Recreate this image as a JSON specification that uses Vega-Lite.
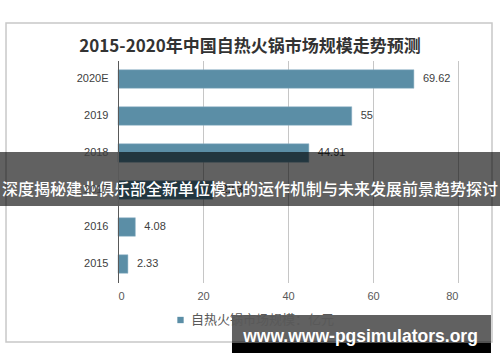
{
  "$schema": "https://vega.github.io/schema/vega-lite/v6.json",
  "width": 340,
  "height": 222,
  "autosize": {"type": "none"},
  "padding": {"left": 118, "top": 60.5, "right": 42, "bottom": 79.5},
  "background": "white",
  "config": {"view": {"stroke": null}, "font": "Liberation Sans"},
  "title": {
    "text": "2015-2020年中国自热火锅市场规模走势预测",
    "font": "Noto Sans CJK SC",
    "fontSize": 17,
    "fontWeight": "bold",
    "color": "#333333",
    "anchor": "middle",
    "dx": -38,
    "dy": 42,
    "offset": 8
  },
  "data": {
    "values": [
      {"year": "2020E", "value": 69.62, "series": "自热火锅市场规模：亿元"},
      {"year": "2019", "value": 55, "series": "自热火锅市场规模：亿元"},
      {"year": "2018", "value": 44.91, "series": "自热火锅市场规模：亿元"},
      {"year": "2017", "value": 22.3, "series": "自热火锅市场规模：亿元"},
      {"year": "2016", "value": 4.08, "series": "自热火锅市场规模：亿元"},
      {"year": "2015", "value": 2.33, "series": "自热火锅市场规模：亿元"}
    ]
  },
  "layer": [
    {
      "data": {"values": [{"k": "frame"}]},
      "mark": {"type": "rect", "fill": "#ffffff", "fillOpacity": 0, "stroke": "#c8c8c8", "strokeWidth": 1.5},
      "encoding": {
        "x": {"datum": -26.35, "type": "quantitative", "scale": {"domain": [0, 80], "nice": false}, "axis": {"title": null, "values": [0, 20, 40, 60, 80], "ticks": false, "domain": false, "grid": true, "gridColor": "#c6c6c6", "gridWidth": 1, "labelFontSize": 11, "labelColor": "#595959", "labelPadding": 8, "labelFont": "Liberation Sans"}},
        "x2": {"datum": 88.0},
        "y": {"datum": "2020E", "type": "nominal", "bandPosition": -2.53, "scale": {"domain": ["2020E", "2019", "2018", "2017", "2016", "2015"], "paddingInner": 0.5, "paddingOuter": 0.25}, "axis": {"title": null, "ticks": false, "grid": false, "domain": true, "domainColor": "#595959", "domainWidth": 1, "labelFontSize": 11, "labelColor": "#404040", "labelPadding": 10, "labelFont": "Liberation Sans"}},
        "y2": {"datum": "2015", "bandPosition": 4.72}
      }
    },
    {
      "mark": {"type": "bar", "stroke": "#8fb3c6", "strokeWidth": 0.5},
      "encoding": {
        "x": {"field": "value", "type": "quantitative"},
        "y": {"field": "year", "type": "nominal"},
        "color": {
          "field": "series",
          "type": "nominal",
          "scale": {"range": ["#5b8ea6"]},
          "legend": {"title": null, "orient": "none", "legendX": 56, "legendY": 253, "symbolType": "square", "symbolSize": 40, "symbolStrokeWidth": 0, "labelFont": "Noto Sans CJK SC", "labelFontSize": 13, "labelColor": "#595959", "labelOffset": 4}
        }
      }
    },
    {
      "mark": {"type": "text", "align": "left", "baseline": "middle", "dx": 9, "fontSize": 11, "color": "#404040", "font": "Liberation Sans"},
      "encoding": {
        "x": {"field": "value", "type": "quantitative"},
        "y": {"field": "year", "type": "nominal"},
        "text": {"field": "value", "type": "quantitative", "format": ".2~f"}
      }
    },
    {
      "data": {"values": [{"k": "banner"}]},
      "mark": {"type": "rect", "fill": "#000000", "fillOpacity": 0.62},
      "encoding": {
        "x": {"datum": -27.8, "type": "quantitative"},
        "x2": {"datum": 89.9},
        "y": {"datum": "2018", "type": "nominal", "bandPosition": 0.446},
        "y2": {"datum": "2017", "bandPosition": 1.365}
      }
    },
    {
      "data": {"values": [{"t": "深度揭秘建业俱乐部全新单位模式的运作机制与未来发展前景趋势探讨"}]},
      "mark": {"type": "text", "align": "center", "baseline": "middle", "fontSize": 16, "fontWeight": 500, "color": "#ffffff", "font": "Noto Sans CJK SC"},
      "encoding": {
        "x": {"datum": 31.06, "type": "quantitative"},
        "y": {"datum": "2017", "type": "nominal"},
        "text": {"field": "t"}
      }
    },
    {
      "data": {"values": [{"k": "wm"}]},
      "mark": {"type": "rect", "fill": "#000000", "fillOpacity": 0.62},
      "encoding": {
        "x": {"datum": 26.82, "type": "quantitative"},
        "x2": {"datum": 87.76},
        "y": {"datum": "2015", "type": "nominal", "bandPosition": 3.26},
        "y2": {"datum": "2015", "bandPosition": 4.77}
      }
    },
    {
      "data": {"values": [{"k": "wm2"}]},
      "mark": {"type": "rect", "fill": "#000000"},
      "encoding": {
        "x": {"datum": 26.82, "type": "quantitative"},
        "x2": {"datum": 87.76},
        "y": {"datum": "2015", "type": "nominal", "bandPosition": 4.77},
        "y2": {"datum": "2015", "bandPosition": 5.31}
      }
    },
    {
      "data": {"values": [{"t": "www.www-pgsimulators.org"}]},
      "mark": {"type": "text", "align": "center", "baseline": "alphabetic", "fontSize": 17.5, "fontWeight": "bold", "color": "#ffffff", "font": "Liberation Sans"},
      "encoding": {
        "x": {"datum": 57.06, "type": "quantitative"},
        "y": {"datum": "2015", "type": "nominal", "bandPosition": 4.72},
        "text": {"field": "t"}
      }
    }
  ]
}
